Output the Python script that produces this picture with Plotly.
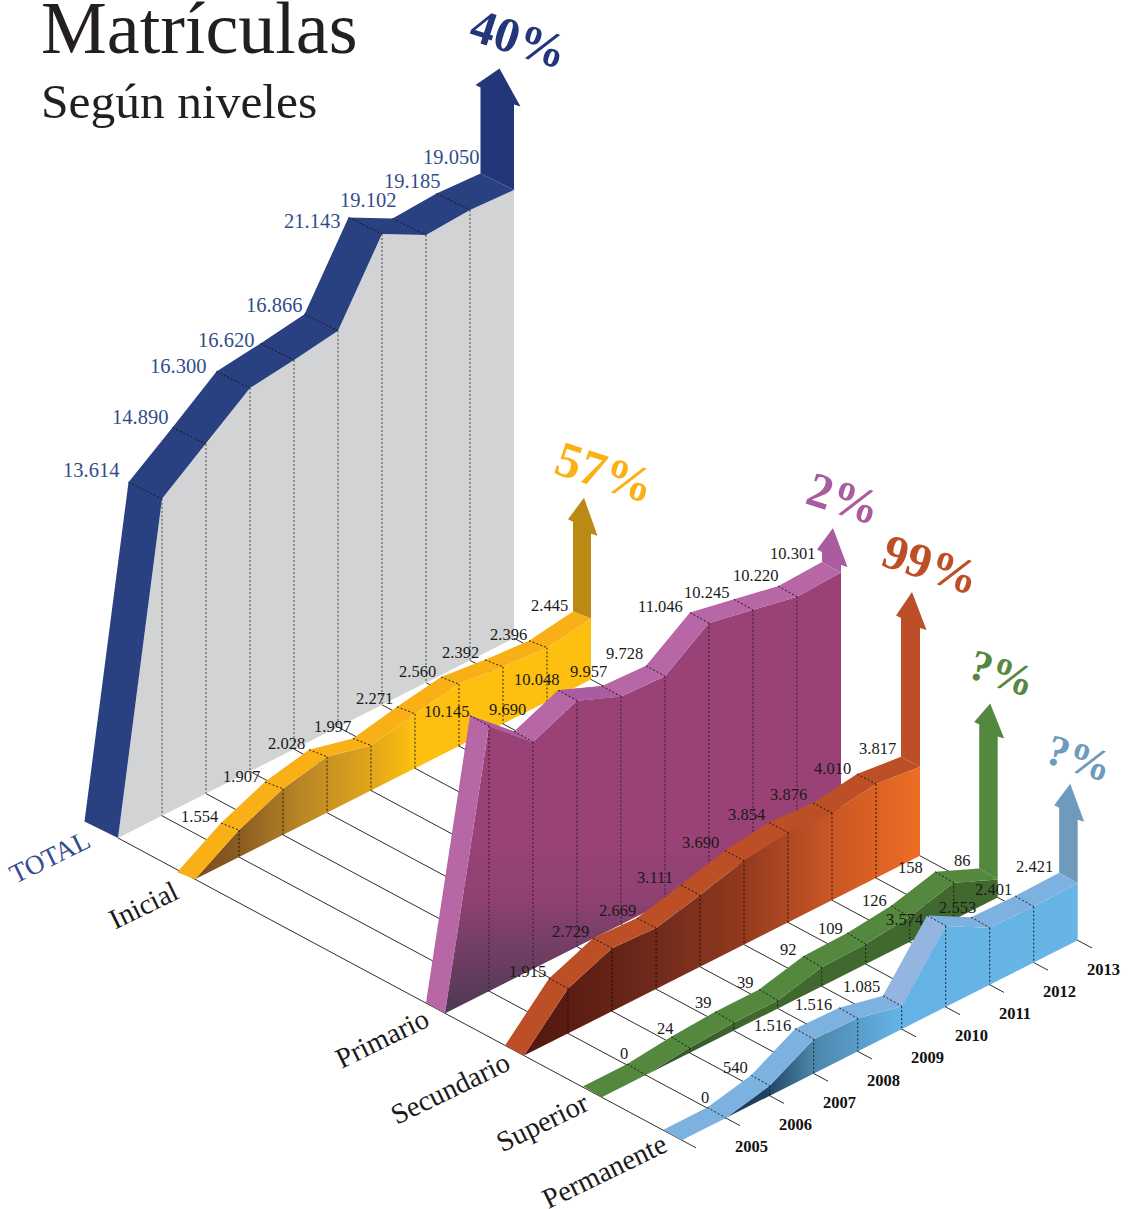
import plotly.graph_objects as go

# ---------- data ----------
years = [2005, 2006, 2007, 2008, 2009, 2010, 2011, 2012, 2013]
series_names = ["TOTAL", "Inicial", "Primario", "Secundario", "Superior", "Permanente"]
percent_labels = ["40%", "57%", "2%", "99%", "?%", "?%"]

# printed labels
total_labels = ["13.614", "14.890", "16.300", "16.620", "16.866", "21.143", "19.102", "19.185", "19.050"]
inicial_labels = ["1.554", "1.907", "2.028", "1.997", "2.271", "2.560", "2.392", "2.396", "2.445"]
primario_labels = ["10.145", "9.690", "10.048", "9.957", "9.728", "11.046", "10.245", "10.220", "10.301"]
secundario_labels = ["1.915", "2.729", "2.669", "3.111", "3.690", "3.854", "3.876", "4.010", "3.817"]
superior_labels = ["0", "24", "39", "39", "92", "109", "126", "158", "86"]
permanente_labels = ["0", "540", "1.516", "1.516", "1.085", "3.574", "2.553", "2.401", "2.421"]

# levels as actually drawn in the picture (the artwork is not strictly to scale)
total_levels = [13664, 15069, 16526, 16776, 17082, 20293, 19293, 19414, 19319]
inicial_levels = [1164, 1983, 2414, 1940, 2349, 2672, 2457, 2328, 2629]
primario_levels = [11422, 9784, 10603, 9828, 9741, 11078, 10690, 10302, 10388]
secundario_levels = [1940, 2716, 2629, 3091, 3621, 3879, 3763, 4052, 3836]
superior_levels = [0, 25, 40, 40, 95, 100, 125, 185, 90]
permanente_levels = [0, 431, 1483, 1422, 991, 3491, 2457, 2414, 2457]

# ---------- oblique projection ----------
ORIGIN = (118.0, 838.0)
STEP = (44.0, -22.2)
DEPTH_SLOPE = 0.536
DEPTH_END = 578.0
FONT = "Liberation Serif"


def project(depth, t, level=0.0, scale=0.0232):
    return (ORIGIN[0] + depth + t * STEP[0],
            ORIGIN[1] + depth * DEPTH_SLOPE + t * STEP[1] - level * scale)


SERIES = [
    dict(levels=total_levels, labels=total_labels, depth=0, scale=0.0232, ribbon_vec=(-33.5, -16.5),
         ribbon="#2a4181", arrow="#24367a", text="#334d8c", name_color="#334d8c",
         wall=dict(color="#d1d3d4"), dash="#3a3a3a",
         rise=86, drop=17, tip=(19, -19), ribbon_shades={},
         offsets=[(-9, -12), (-4, -11), (-10, -6), (-6, -4), (-2, -9), (-8, 3), (4, -19), (4, -13), (-1, -17)],
         lab_size=20.5, pct_off=(19, -30), pct_size=49, name_pos=(50, 857), name_size=27),
    dict(levels=inicial_levels, labels=inicial_labels, depth=77, scale=0.0232, ribbon_vec=(-18, -7),
         ribbon="#f9b016", arrow="#bb8a14", text="#1a1a1a", name_color="#1a1a1a",
         wall=dict(grad=[[0, "#7a4c1e"], [0.11, "#8a5c20"], [0.27, "#b98627"], [0.44, "#e0a51b"], [0.55, "#fdbf10"], [1, "#fec010"]]),
         dash="#111111",
         rise=89.7, drop=12, tip=(11, -24), ribbon_shades={},
         offsets=[(-2, -7), (-4, -5), (-3, -6), (-1, -12), (-3, -8), (-4, -6), (-5, -7), (-1, -6), (-4, -6)],
         lab_size=16.5, pct_off=(21, -26), pct_size=50, name_pos=(143, 905), name_size=28.5),
    dict(levels=primario_levels, labels=primario_labels, depth=327, scale=0.0232, ribbon_vec=(-19, -10.5),
         ribbon="#b766a6", arrow="#aa5c9f", text="#1a1a1a", name_color="#1a1a1a",
         wall=dict(color="#9a4276", shade=True), dash="#2a1a2a",
         rise=10, drop=13, tip=(11, -24), ribbon_shades={0: "#a95c9f", 2: "#a95c9f"},
         offsets=[(0, -4), (13, -22), (2, -11), (6, -14), (-2, -12), (-6, -6), (-4, -7), (1, -11), (-6, -8)],
         lab_size=16.5, pct_off=(11, -29), pct_size=49, name_pos=(382, 1038), name_size=28.5),
    dict(levels=secundario_levels, labels=secundario_labels, depth=406, scale=0.0232, ribbon_vec=(-19, -10),
         ribbon="#bd4f27", arrow="#bd4f28", text="#1a1a1a", name_color="#1a1a1a",
         wall=dict(grad=[[0, "#521810"], [0.11, "#5a1c12"], [0.33, "#6f2a1b"], [0.55, "#92391f"], [0.77, "#c85625"], [1, "#ee6d24"]]),
         dash="#1a0a05",
         rise=138.7, drop=10, tip=(11, -26), ribbon_shades={},
         offsets=[(-2, -7), (-3, -7), (0, -8), (-7, -8), (-5, -8), (-3, -8), (-5, -8), (-5, -6), (-4, -8)],
         lab_size=16.5, pct_off=(19, -28), pct_size=49, name_pos=(450, 1088), name_size=28.5),
    dict(levels=superior_levels, labels=superior_labels, depth=483.7, scale=0.2, ribbon_vec=(-18.5, -11),
         ribbon="#55883f", arrow="#55883f", text="#1a1a1a", name_color="#1a1a1a",
         wall=dict(grad=[[0, "#2c4a25"], [0.4, "#41692f"], [1, "#41692f"]]), dash="#0c1a08",
         rise=144, drop=12, tip=(11, -21), ribbon_shades={},
         offsets=[(2, -11), (4, -8), (-2, -9), (-4, -7), (-5, -7), (-3, -5), (-3, -5), (-11, -4), (-7, -8)],
         lab_size=16.5, pct_off=(12, -30), pct_size=44, name_pos=(542, 1122), name_size=28.5),
    dict(levels=permanente_levels, labels=permanente_labels, depth=563.7, scale=0.0232, ribbon_vec=(-18.5, -10.5),
         ribbon="#7db1e0", arrow="#6e9abd", text="#1a1a1a", name_color="#1a1a1a",
         wall=dict(grad=[[0, "#1a3652"], [0.21, "#1f4060"], [0.33, "#4c85a9"], [0.55, "#65b3e6"], [1, "#68b4e6"]]),
         dash="#101a24",
         rise=65, drop=12, tip=(11, -24), ribbon_shades={4: "#93b5e0"},
         offsets=[(3, -10), (-2, -8), (-3, -3), (-6, -3), (-2, -9), (-3, 4), (6, -10), (-2, -7), (-5, -6)],
         lab_size=16.5, pct_off=(9, -25), pct_size=44, name_pos=(604, 1171), name_size=28.5),
]

fig = go.Figure()


def polygon(points, **kw):
    fig.add_trace(go.Scatter(x=[p[0] for p in points], y=[p[1] for p in points], mode="lines",
                             fill="toself", line=dict(width=0), hoverinfo="skip", showlegend=False, **kw))


def segments(pairs, color, width, dash="solid"):
    xs, ys = [], []
    for a, b in pairs:
        xs += [a[0], b[0], None]
        ys += [a[1], b[1], None]
    fig.add_trace(go.Scatter(x=xs, y=ys, mode="lines", line=dict(color=color, width=width, dash=dash),
                             hoverinfo="skip", showlegend=False))


# floor lines: one per year plus the zero line, running through the series depths
floor = []
for t in range(len(years) + 1):
    floor.append((project(0, t), project(DEPTH_END, t)))
segments(floor, "#2e2e2e", 1)

annotations = []


def text(x, y, s, size, color, anchor="center", angle=0, bold=False):
    annotations.append(dict(x=x, y=y, xref="x", yref="y", text=f"<b>{s}</b>" if bold else s, showarrow=False,
                            xanchor=anchor, yanchor="middle", textangle=angle, borderpad=0,
                            font=dict(family=FONT, size=size, color=color)))


for s, name, pct in zip(SERIES, series_names, percent_labels):
    d, sc, (vx, vy) = s["depth"], s["scale"], s["ribbon_vec"]
    zero = project(d, 0)
    base = [project(d, i + 1) for i in range(len(years))]
    inner = [project(d, i + 1, v, sc) for i, v in enumerate(s["levels"])]
    inner_all = [zero] + inner
    outer_all = [(p[0] + vx, p[1] + vy) for p in inner_all]
    outer = outer_all[1:]

    # wall
    wall_pts = inner_all + [base[-1], zero]
    if "grad" in s["wall"]:
        polygon(wall_pts, fillgradient=dict(type="horizontal", colorscale=s["wall"]["grad"]))
    else:
        polygon(wall_pts, fillcolor=s["wall"]["color"])
    if s["wall"].get("shade"):
        # darkening towards the lower-left corner of the wall: the top edge is level so the fade has no seam
        frac = 0.62
        left_edge = (zero[0] + frac * (inner[0][0] - zero[0]), zero[1] + frac * (inner[0][1] - zero[1]))
        t_right = (zero[1] - left_edge[1]) / -STEP[1]
        polygon([zero, left_edge, project(d, t_right)],
                fillgradient=dict(type="vertical",
                                  colorscale=[[0, "rgba(45,55,70,0.72)"], [0.3, "rgba(45,55,70,0.42)"],
                                              [0.65, "rgba(45,55,70,0.1)"], [1, "rgba(45,55,70,0)"]]))

    # arrow rising from the end of the ribbon
    O, I = outer[-1], inner[-1]
    lt = (O[0], O[1] - s["rise"])
    rt = (I[0], lt[1] + s["drop"])
    tip = (lt[0] + s["tip"][0], lt[1] + s["tip"][1])
    polygon([O, lt, (lt[0] - 5, lt[1] - 2.5), tip, (rt[0] + 6.5, rt[1] + 2), rt, I], fillcolor=s["arrow"])

    # ribbon
    polygon(outer_all + inner_all[::-1], fillcolor=s["ribbon"])
    for seg, col in s["ribbon_shades"].items():
        polygon([outer_all[seg + 1], outer_all[seg + 2], inner_all[seg + 2], inner_all[seg + 1]], fillcolor=col)

    # dashed year marks (wall and ribbon), up to the second-to-last year
    segments([(inner[i], base[i]) for i in range(8)], s["dash"], 0.9, "2px,2px")
    segments([(outer[i], inner[i]) for i in range(8)], "#111111", 0.9, "2px,2px")

    # value labels
    for p, lab, off in zip(outer, s["labels"], s["offsets"]):
        text(p[0] + off[0], p[1] + off[1], lab, s["lab_size"], s["text"], anchor="right")

    # percentage and series name
    text(tip[0] + s["pct_off"][0], tip[1] + s["pct_off"][1], pct, s["pct_size"],
         "#fbb015" if name == "Inicial" else s["arrow"], angle=18, bold=True)
    text(s["name_pos"][0], s["name_pos"][1], name, s["name_size"], s["name_color"], angle=-26)

# year labels at the end of each floor line
for i, y in enumerate(years):
    end = project(DEPTH_END, i + 1)
    text(end[0] + 11, end[1] + 21, str(y), 16.5, "#111111", bold=True)

# titles
text(40, 28, "Matrículas", 74, "#231f20", anchor="left")
text(40, 101, "Según niveles", 49.5, "#231f20", anchor="left")

fig.update_layout(
    width=1135, height=1209, margin=dict(l=0, r=0, t=0, b=0),
    paper_bgcolor="white", plot_bgcolor="white", annotations=annotations, showlegend=False,
    xaxis=dict(range=[0, 1135], visible=False, fixedrange=True),
    yaxis=dict(range=[1209, 0], visible=False, fixedrange=True),
)
fig.write_html("out.html", config=dict(displayModeBar=False),
               post_script="document.body.style.margin='0';")
